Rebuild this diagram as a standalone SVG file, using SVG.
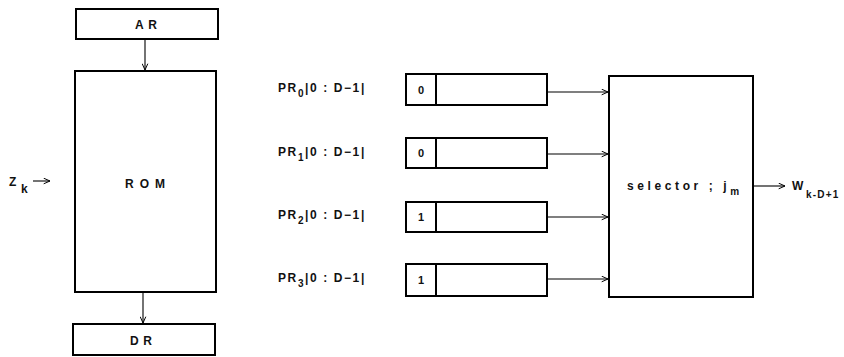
<svg xmlns="http://www.w3.org/2000/svg" width="844" height="357" viewBox="0 0 844 357">
  <defs>
    <marker id="arr" viewBox="0 0 10 10" refX="10" refY="5" markerWidth="7" markerHeight="7" orient="auto" markerUnits="userSpaceOnUse">
      <path d="M1,1 L10,5 L1,9" fill="none" stroke="#000" stroke-width="1.4"/>
    </marker>
  </defs>
  <style>
    .box { fill: #fff; stroke: #000; stroke-width: 2; }
    .wire { fill: none; stroke: #000; stroke-width: 1.1; marker-end: url(#arr); }
    .t { font-family: "Liberation Sans", Arial, sans-serif; font-size: 12px; font-weight: bold; fill: #111; }
    .lbl { letter-spacing: 1.6px; }
    .sub { font-size: 10px; }
    .cell { font-size: 11px; }
  </style>
  <rect width="844" height="357" fill="#fff"/>

  <!-- address register -->
  <g id="ar">
    <rect class="box" x="76" y="9" width="142" height="30"/>
    <text class="t" x="135" y="29" letter-spacing="4.5">AR</text>
  </g>

  <!-- read-only memory -->
  <g id="rom">
    <rect class="box" x="75" y="71" width="141" height="221"/>
    <text class="t" x="125" y="188" letter-spacing="6">ROM</text>
  </g>

  <!-- data register -->
  <g id="dr">
    <rect class="box" x="73" y="324" width="142" height="31"/>
    <text class="t" x="130" y="345" letter-spacing="4.5">DR</text>
  </g>

  <!-- input symbol -->
  <g id="zk">
    <text class="t" x="9" y="186">Z</text>
    <text class="t" x="21" y="193" font-size="11">k</text>
  </g>

  <!-- path registers -->
  <g id="pr0">
    <text class="t lbl" x="278" y="92">PR<tspan class="sub" dy="5">0</tspan><tspan dy="-5">|0 : D−1|</tspan></text>
    <rect class="box" x="406" y="74" width="141" height="31"/>
    <line x1="436" y1="74" x2="436" y2="105" stroke="#000" stroke-width="2"/>
    <text class="t cell" x="421" y="94" text-anchor="middle">0</text>
  </g>
  <g id="pr1">
    <text class="t lbl" x="278" y="156">PR<tspan class="sub" dy="5">1</tspan><tspan dy="-5">|0 : D−1|</tspan></text>
    <rect class="box" x="406" y="138" width="141" height="30"/>
    <line x1="436" y1="138" x2="436" y2="168" stroke="#000" stroke-width="2"/>
    <text class="t cell" x="421" y="157" text-anchor="middle">0</text>
  </g>
  <g id="pr2">
    <text class="t lbl" x="278" y="219">PR<tspan class="sub" dy="5">2</tspan><tspan dy="-5">|0 : D−1|</tspan></text>
    <rect class="box" x="406" y="202" width="141" height="30"/>
    <line x1="436" y1="202" x2="436" y2="232" stroke="#000" stroke-width="2"/>
    <text class="t cell" x="421" y="221" text-anchor="middle">1</text>
  </g>
  <g id="pr3">
    <text class="t lbl" x="278" y="282">PR<tspan class="sub" dy="5">3</tspan><tspan dy="-5">|0 : D−1|</tspan></text>
    <rect class="box" x="406" y="264" width="141" height="32"/>
    <line x1="436" y1="264" x2="436" y2="296" stroke="#000" stroke-width="2"/>
    <text class="t cell" x="421" y="284" text-anchor="middle">1</text>
  </g>

  <!-- selector -->
  <g id="selector">
    <rect class="box" x="609" y="76" width="144" height="221"/>
    <text class="t" x="627" y="190" letter-spacing="3.6">selector ; j<tspan class="sub" dy="5" letter-spacing="0">m</tspan></text>
  </g>

  <!-- output symbol -->
  <g id="w">
    <text class="t" x="792" y="190">W</text>
    <text class="t sub" x="806" y="198" letter-spacing="1.2">k-D+1</text>
  </g>

  <!-- connectors -->
  <g id="connectors">
    <line class="wire" x1="145" y1="39" x2="145" y2="70"/>
    <line class="wire" x1="143" y1="292" x2="143" y2="323"/>
    <line class="wire" x1="33" y1="181" x2="50" y2="181"/>
    <line class="wire" x1="547" y1="92" x2="608" y2="92"/>
    <line class="wire" x1="547" y1="154" x2="608" y2="154"/>
    <line class="wire" x1="547" y1="217" x2="608" y2="217"/>
    <line class="wire" x1="547" y1="279" x2="608" y2="279"/>
    <line class="wire" x1="753" y1="186" x2="785" y2="186"/>
  </g>
</svg>
